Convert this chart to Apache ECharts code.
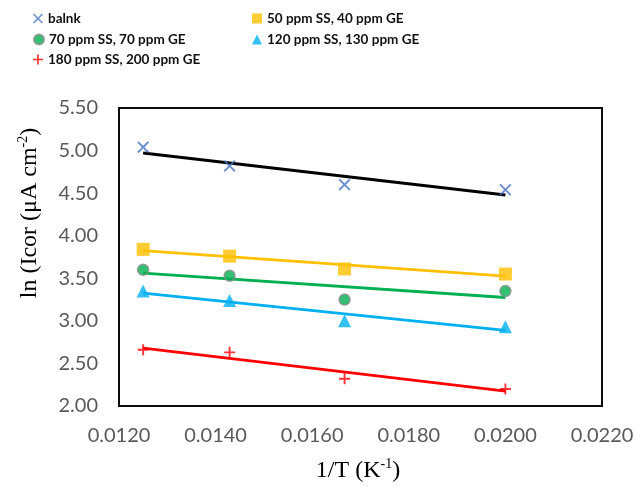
<!DOCTYPE html>
<html>
<head>
<meta charset="utf-8">
<script src="https://cdn.jsdelivr.net/npm/echarts@6/dist/echarts.min.js"></script>
<style>html,body{margin:0;padding:0;background:#fff;}#c{width:637px;height:487px;}</style>
</head>
<body>
<div id="c"></div>
<script>
// 1/T values (K^-1)
const invT = [0.0125, 0.01429, 0.01667, 0.0200];
// ln(Icor) per condition
const blank   = [5.04, 4.82, 4.60, 4.54];
const ss50    = [3.84, 3.76, 3.61, 3.55];
const ss70    = [3.60, 3.53, 3.25, 3.35];
const ss120   = [3.35, 3.24, 3.00, 2.93];
const ss180   = [2.66, 2.63, 2.32, 2.20];
const seriesNames = ['balnk', '50 ppm SS, 40 ppm GE', '70 ppm SS, 70 ppm GE', '120 ppm SS, 130 ppm GE', '180 ppm SS, 200 ppm GE'];
const yTicks = {min: 2.0, max: 5.5, step: 0.5};
const xTicks = {min: 0.012, max: 0.022, step: 0.002};

function pairs(xs, ys){ return xs.map((x,i)=>[x, ys[i]]); }
function trend(xs, ys){
  const n = xs.length;
  const mx = xs.reduce((a,b)=>a+b,0)/n, my = ys.reduce((a,b)=>a+b,0)/n;
  let sxy=0, sxx=0;
  for(let i=0;i<n;i++){ sxy+=(xs[i]-mx)*(ys[i]-my); sxx+=(xs[i]-mx)*(xs[i]-mx); }
  const b = sxy/sxx, a = my - b*mx;
  const x0 = Math.min(...xs), x1 = Math.max(...xs);
  return [[x0, a+b*x0],[x1, a+b*x1]];
}

const X_PATH = 'path://M0,1.1 L1.1,0 L5,3.9 L8.9,0 L10,1.1 L6.1,5 L10,8.9 L8.9,10 L5,6.1 L1.1,10 L0,8.9 L3.9,5 Z';
const PLUS_PATH = 'path://M4.15,0 L5.85,0 L5.85,4.15 L10,4.15 L10,5.85 L5.85,5.85 L5.85,10 L4.15,10 L4.15,5.85 L0,5.85 L0,4.15 L4.15,4.15 Z';

const ys = [blank, ss50, ss70, ss120, ss180];
const lineColors = ['#000000', '#FFC000', '#00B050', '#00B0F0', '#FF0000'];
const markerDefs = [
  {symbol: X_PATH, size: 12, style: {color: '#4472C4'}},
  {symbol: 'rect', size: 13, style: {color: '#FFC000'}},
  {symbol: 'circle', size: 11, style: {color: '#00B050', borderColor: '#8C8C8C', borderWidth: 1.5}},
  {symbol: 'triangle', size: 13, style: {color: '#00B0F0'}},
  {symbol: PLUS_PATH, size: 11, style: {color: '#FF0000'}}
];

const series = [];
ys.forEach((arr, i) => {
  series.push({
    type: 'line', name: seriesNames[i] + ' trend', data: trend(invT, arr),
    showSymbol: false, symbol: 'none', silent: true, z: 2,
    lineStyle: {color: lineColors[i], width: i === 0 ? 3 : 2.8}
  });
});
ys.forEach((arr, i) => {
  series.push({
    type: 'scatter', name: seriesNames[i], data: pairs(invT, arr),
    symbol: markerDefs[i].symbol, symbolSize: markerDefs[i].size,
    itemStyle: markerDefs[i].style, z: 3
  });
});

const legendPos = [
  {left: 33, top: 10}, {left: 252, top: 10},
  {left: 33, top: 31}, {left: 252, top: 31},
  {left: 33, top: 51}
];
const legends = seriesNames.map((nm, i) => ({
  data: [nm], left: legendPos[i].left, top: legendPos[i].top,
  padding: 0, itemWidth: 10, itemHeight: 10, selectedMode: false,
  textStyle: {fontFamily: 'Lato', fontWeight: 'bold', fontSize: 13.5, color: '#111', lineHeight: 16, padding: [1,0,0,0]}
}));

const chart = echarts.init(document.getElementById('c'), null, {renderer: 'canvas'});
chart.setOption({
  animation: false,
  backgroundColor: '#fff',
  legend: legends,
  grid: {left: 119, top: 108, right: 35, bottom: 81, show: true, borderColor: '#0d0d0d', borderWidth: 2, backgroundColor: 'transparent'},
  xAxis: {
    type: 'value', min: xTicks.min, max: xTicks.max, interval: xTicks.step,
    axisLine: {show: false}, axisTick: {show: false}, splitLine: {show: false},
    axisLabel: {margin: 20, color: '#595959', fontFamily: 'Lato', fontSize: 20, formatter: v => v.toFixed(4), showMinLabel: true, showMaxLabel: true}
  },
  yAxis: {
    type: 'value', min: yTicks.min, max: yTicks.max, interval: yTicks.step,
    axisLine: {show: false}, axisTick: {show: false}, splitLine: {show: false},
    axisLabel: {margin: 21, color: '#595959', fontFamily: 'Lato', fontSize: 20, formatter: v => v.toFixed(2)}
  },
  graphic: [
    {type: 'text', x: 30, y: 213, rotation: Math.PI/2,
     style: {text: '{a|ln (Icor (μA cm}{s|-2}{a|)}', align: 'center', verticalAlign: 'middle',
       rich: {a: {fontFamily: 'Liberation Serif', fontSize: 24, lineHeight: 28, fill: '#000', color: '#000'},
              s: {fontFamily: 'Liberation Serif', fontSize: 14, lineHeight: 14, verticalAlign: 'top', fill: '#000', color: '#000'}}}},
    {type: 'text', x: 358, y: 471,
     style: {text: '{a|1/T (K}{s|-1}{a|)}', align: 'center', verticalAlign: 'middle',
       rich: {a: {fontFamily: 'Liberation Serif', fontSize: 24, lineHeight: 28, fill: '#000', color: '#000'},
              s: {fontFamily: 'Liberation Serif', fontSize: 14, lineHeight: 14, verticalAlign: 'top', fill: '#000', color: '#000'}}}}
  ],
  series: series
});
</script>
</body>
</html>
